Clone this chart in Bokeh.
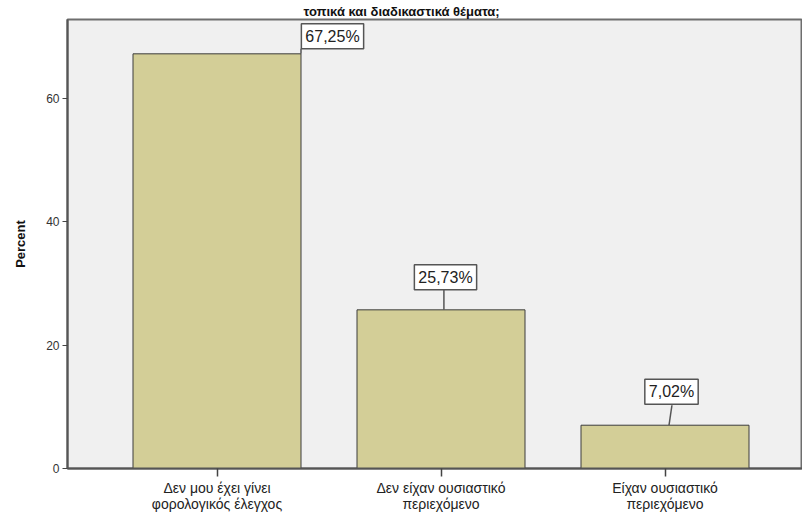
from bokeh.plotting import figure
from bokeh.models import Label, FixedTicker, Range1d
from bokeh.embed import file_html
from bokeh.resources import INLINE

# ---- data ----
categories = ["Δεν μου έχει γίνει\nφορολογικός έλεγχος",
              "Δεν είχαν ουσιαστικό\nπεριεχόμενο",
              "Είχαν ουσιαστικό\nπεριεχόμενο"]
percent = [67.25, 25.73, 7.02]
percent_labels = ["67,25%", "25,73%", "7,02%"]
y_ticks = [0, 20, 40, 60]
title_text = "τοπικά και διαδικαστικά θέματα;"
y_label = "Percent"

# ---- layout constants (pixels) ----
W, H = 802, 514
LEFT, TOP, BOTTOM = 67, 18, 46
X_PX = 224.0   # px per category
Y_PX = 6.18    # px per percent
frame_w = W - LEFT
frame_h = H - TOP - BOTTOM
x_start = -149.5 / X_PX
x_end = x_start + frame_w / X_PX
y_end = frame_h / Y_PX

FONT = "Liberation Sans"
BAR = "#d3ce97"

xs = list(range(len(categories)))

p = figure(width=W, height=H, output_backend="svg", toolbar_location=None,
           x_range=Range1d(x_start, x_end), y_range=Range1d(0, y_end),
           min_border_left=LEFT, min_border_right=0, min_border_top=TOP,
           min_border_bottom=BOTTOM)
p.background_fill_color = "#f0f0f0"
p.border_fill_color = "white"
p.outline_line_color = "#6e6e6e"
p.outline_line_width = 2
p.xgrid.visible = False
p.ygrid.visible = False

# title (last line of the original, which is partly cut off there)
p.title.text = title_text
p.title.align = "left"
p.title.offset = 236
p.title.standoff = 2
p.title.text_font = FONT
p.title.text_font_size = "13px"
p.title.text_font_style = "bold"
p.title.text_color = "#111111"

p.vbar(x=xs, top=percent, width=0.75, bottom=0, fill_color=BAR,
       line_color="#3c3c3c", line_width=1)

# x axis
p.xaxis.ticker = FixedTicker(ticks=xs)
p.xaxis.major_label_overrides = {i: c for i, c in zip(xs, categories)}
p.xaxis.major_label_text_font = FONT
p.xaxis.major_label_text_font_size = "14px"
p.xaxis.major_label_text_line_height = 1.0
p.xaxis.major_label_text_color = "#222222"
p.xaxis.major_tick_in = 0
p.xaxis.major_tick_out = 8
p.xaxis.minor_tick_line_color = None
p.xaxis.axis_line_color = "#555555"
p.xaxis.axis_line_width = 2
p.xaxis.major_tick_line_color = "#444444"
p.xaxis.major_tick_line_width = 1.5
p.xaxis.major_label_standoff = 3

# y axis
p.yaxis.ticker = FixedTicker(ticks=y_ticks)
p.yaxis.major_label_text_font = FONT
p.yaxis.major_label_text_font_size = "12px"
p.yaxis.major_label_text_color = "#333333"
p.yaxis.major_tick_in = 0
p.yaxis.major_tick_out = 5
p.yaxis.minor_tick_line_color = None
p.yaxis.axis_line_color = "#555555"
p.yaxis.axis_line_width = 2
p.yaxis.major_tick_line_color = "#444444"
p.yaxis.major_label_standoff = 3
p.yaxis.axis_label = y_label
p.yaxis.axis_label_text_font = FONT
p.yaxis.axis_label_text_font_style = "bold"
p.yaxis.axis_label_text_font_size = "13px"
p.yaxis.axis_label_text_color = "#111111"
p.yaxis.axis_label_standoff = 15

# value labels with leader lines (offsets in pixels from each bar top)
label_dx = [115.5, 4.5, 6.5]
label_dy = [17.5, 32.5, 33.5]
line_x0 = [0.375, 0.013, 0.018]
line_x1 = [0.375, 0.013, 0.031]
line_len = [5, 20, 20]

p.segment(x0=[i + a for i, a in zip(xs, line_x0)], y0=percent,
          x1=[i + b for i, b in zip(xs, line_x1)],
          y1=[v + l / Y_PX for v, l in zip(percent, line_len)],
          line_color="#555555", line_width=1.5)

for i, v, t, dx, dy in zip(xs, percent, percent_labels, label_dx, label_dy):
    p.add_layout(Label(x=i, y=v, x_offset=dx, y_offset=dy, text=t,
                       text_align="center", text_baseline="middle",
                       text_font=FONT, text_font_size="16px",
                       text_color="#222222",
                       background_fill_color="white",
                       border_line_color="#555555", border_line_width=1.5,
                       padding=4))

open("out.html", "w").write(file_html(p, INLINE))
